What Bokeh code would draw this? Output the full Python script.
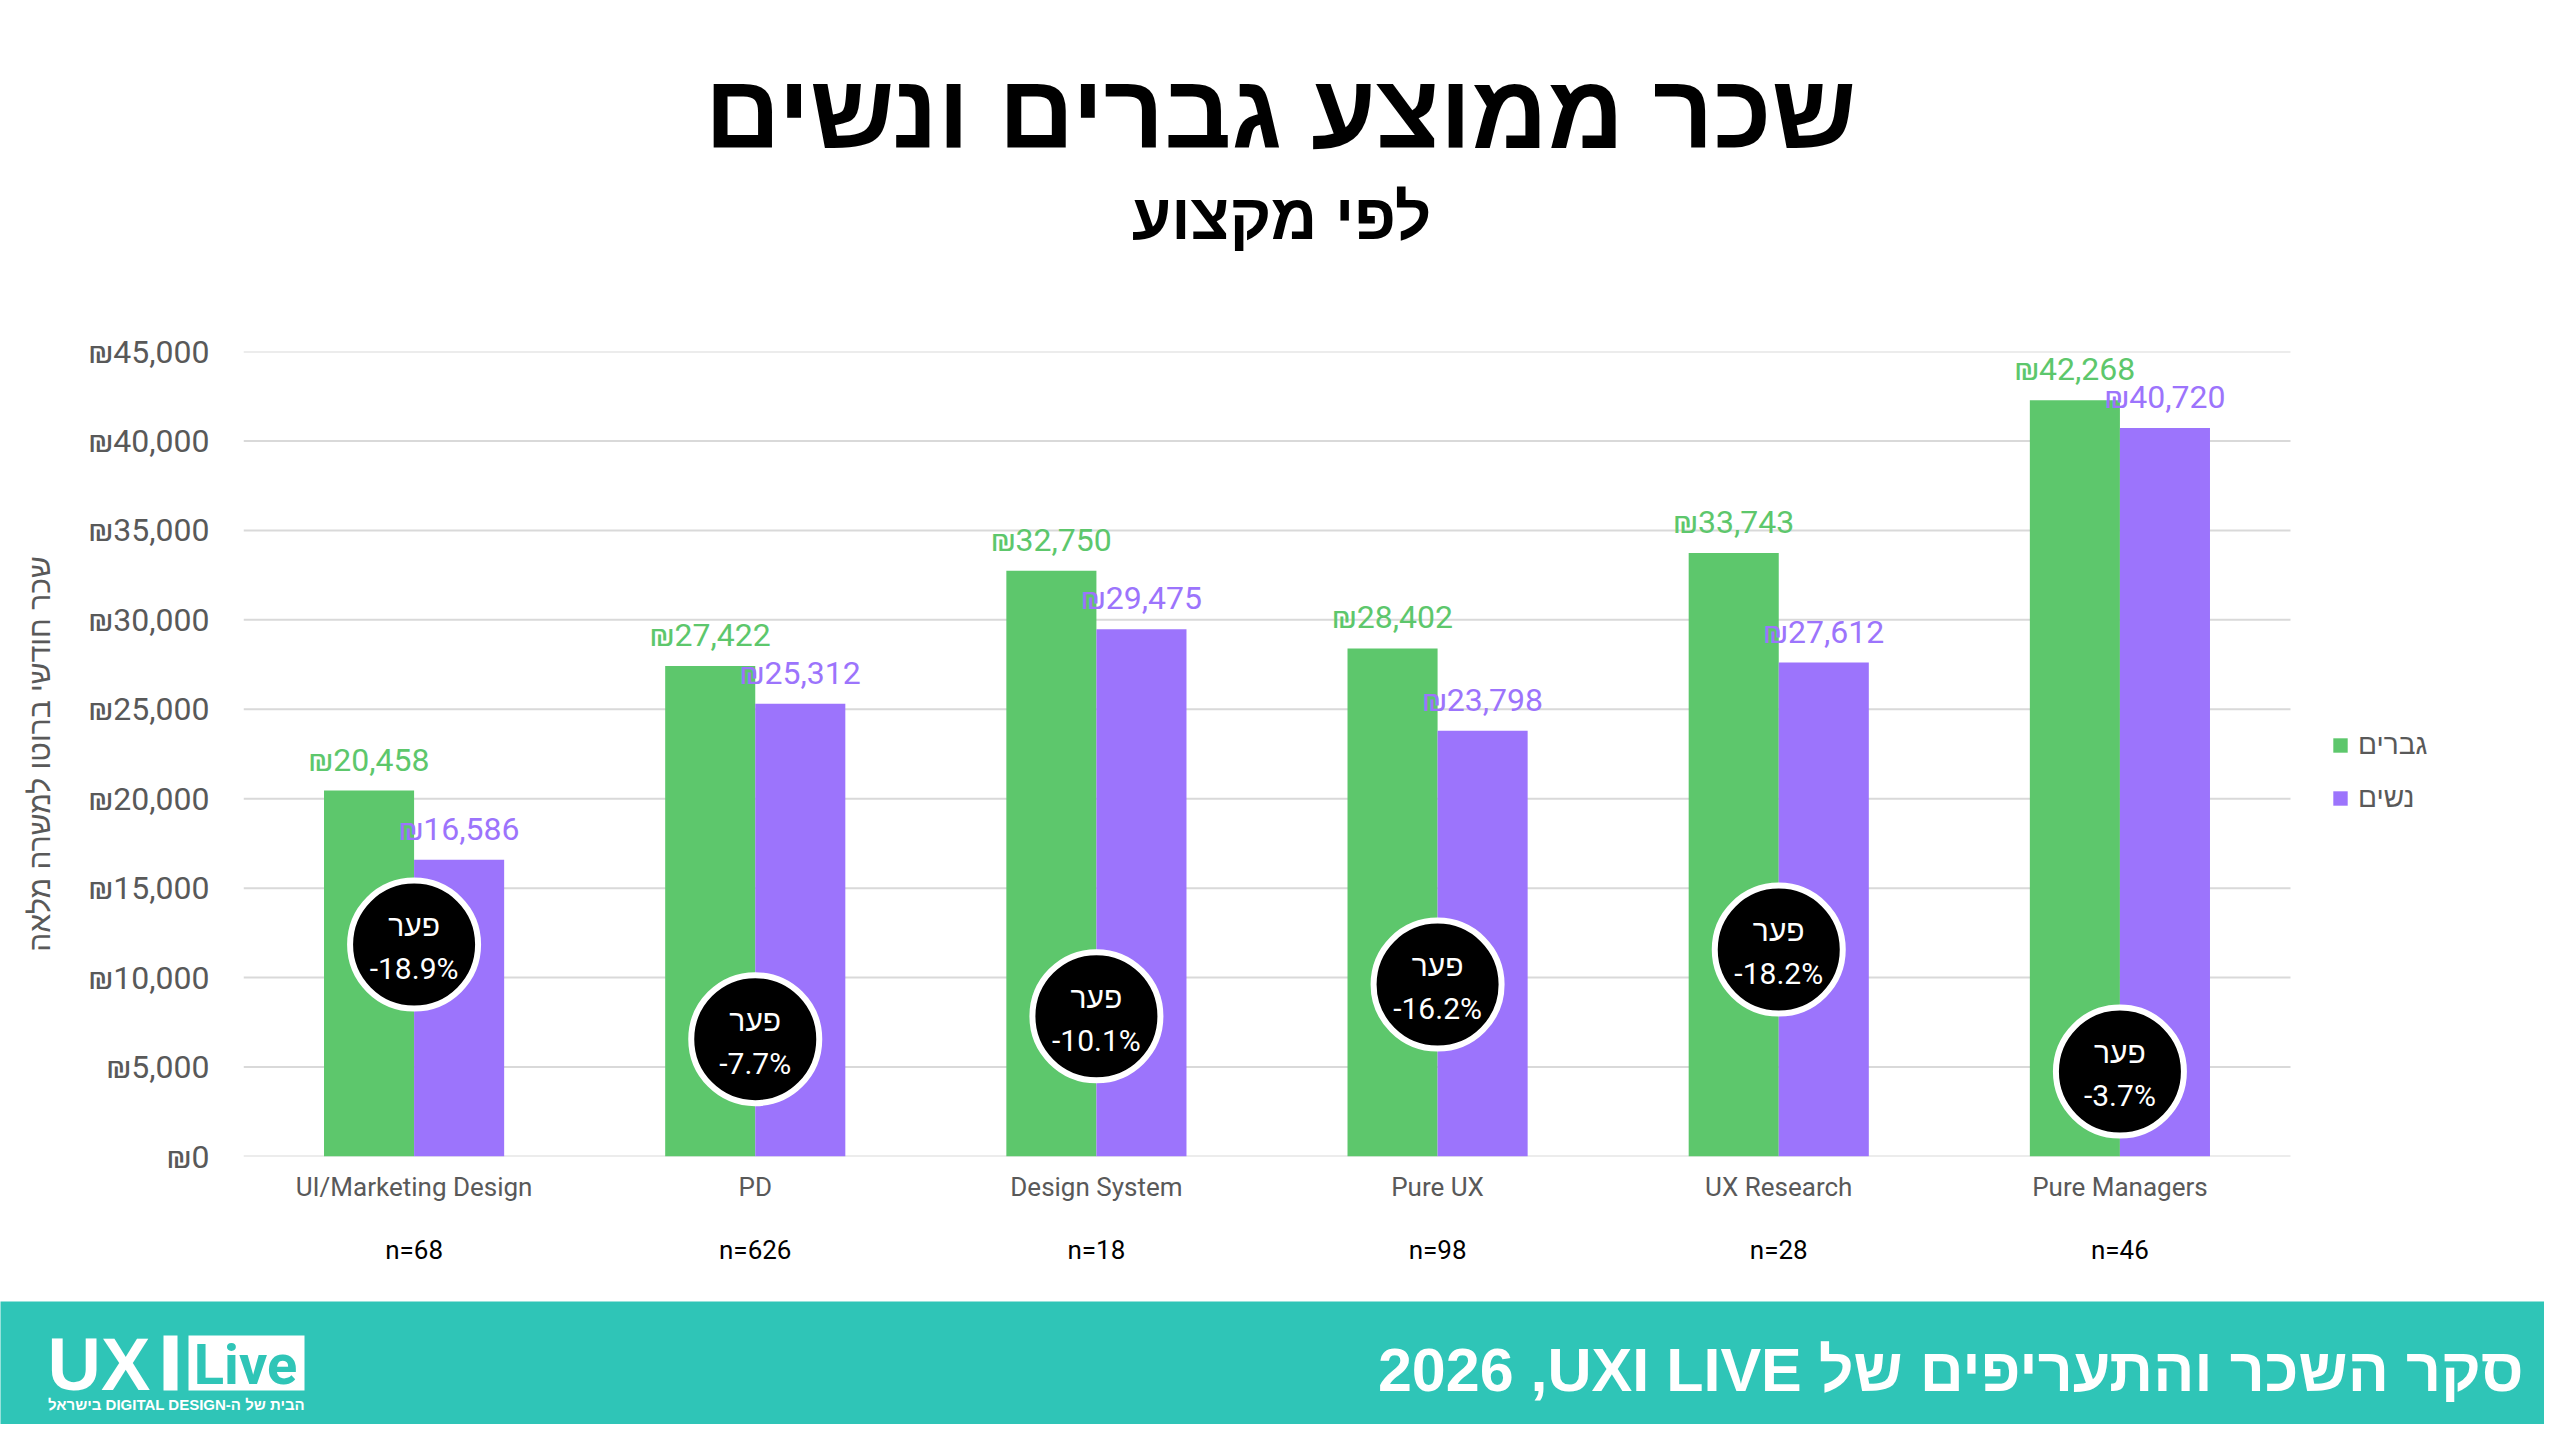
from bokeh.plotting import figure
from bokeh.models import (ColumnDataSource, Range1d, LabelSet, Legend, LegendItem,
                          LinearAxis, FixedTicker)
from bokeh.embed import file_html
from bokeh.resources import INLINE
from bokeh.core.properties import value

# ---------------- data ----------------
categories = ["UI/Marketing Design", "PD", "Design System", "Pure UX", "UX Research", "Pure Managers"]
men_salary = [20458, 27422, 32750, 28402, 33743, 42268]
women_salary = [16586, 25312, 29475, 23798, 27612, 40720]
gap_percent = [-18.9, -7.7, -10.1, -16.2, -18.2, -3.7]
sample_n = [68, 626, 18, 98, 28, 46]
gap_badge_level = [11850, 6560, 7840, 9610, 11570, 4750]
y_tick_values = [0, 5000, 10000, 15000, 20000, 25000, 30000, 35000, 40000, 45000]
series_names = ["גברים", "נשים"]
gap_word = "פער"
title_text = "שכר ממוצע גברים ונשים"
subtitle_text = "לפי מקצוע"
y_title = "שכר חודשי ברוטו למשרה מלאה"
footer_text = "\u202Bסקר השכר והתעריפים של UXI LIVE, \u200F2026\u202C"
tagline_text = "\u202Bהבית של ה-DIGITAL DESIGN בישראל\u202C"

# ---------------- style ----------------
GREEN = "#5DC76C"
PURPLE = "#9C74FC"
TEAL = "#2FC5B7"
GRAY_TXT = "#595959"
GRID = "#D9D9D9"
HEB_NAME = "Liberation Sans"
LAT_NAME = "Roboto"
HEB = value(HEB_NAME)
LAT = value(LAT_NAME)
W = 2544

# category slots on a numeric axis: slot i spans [i, i+1]
centers = [i + 0.5 for i in range(len(categories))]
off = 0.132
bw = 0.264
src = ColumnDataSource(dict(
    xc=centers,
    xm=[c - off for c in centers],
    xw=[c + off for c in centers],
    men=men_salary,
    women=women_salary,
    men_lbl=[f"₪{v:,}" for v in men_salary],
    women_lbl=[f"₪{v:,}" for v in women_salary],
    badge=gap_badge_level,
    gap_lbl=[f"{v}%" for v in gap_percent],
))

# ---------------- header (canvas y 0..300) ----------------
hdr = figure(width=W, height=300, x_range=Range1d(0, W), y_range=Range1d(300, 0),
             x_axis_type=None, y_axis_type=None, output_backend="svg",
             toolbar_location=None, min_border=0)
hdr.outline_line_color = None
hdr.text(x=[1280], y=[111], text=[title_text], text_font=HEB, text_font_style="bold",
         text_font_size="105px", text_align="center", text_baseline="middle",
         text_color="black")
hdr.text(x=[1281], y=[216], text=[subtitle_text], text_font=HEB, text_font_style="bold",
         text_font_size="64px", text_align="center", text_baseline="middle",
         text_color="black")

# ---------------- main chart (canvas y 300..1301) ----------------
FRAME_L, FRAME_R_CATS = 243, 2290          # plot area of the categories
x_end = len(categories) * (W - FRAME_L) / (FRAME_R_CATS - FRAME_L)
chart = figure(width=W, height=1001, x_range=Range1d(0, x_end), y_range=Range1d(0, 45000),
               output_backend="svg", toolbar_location=None,
               min_border_left=FRAME_L, min_border_right=0, min_border_top=51, min_border_bottom=145)
chart.outline_line_color = None
chart.xgrid.visible = False
chart.ygrid.visible = False

# horizontal gridlines across the category area only
chart.segment(x0=[0] * len(y_tick_values), x1=[len(categories)] * len(y_tick_values),
              y0=y_tick_values, y1=y_tick_values, line_color=GRID, line_width=2)

r_men = chart.vbar(x="xm", top="men", width=bw, source=src, fill_color=GREEN, line_color=None)
r_women = chart.vbar(x="xw", top="women", width=bw, source=src, fill_color=PURPLE, line_color=None)

chart.add_layout(LabelSet(x="xm", y="men", text="men_lbl", source=src, y_offset=20,
                          text_align="center", text_baseline="alphabetic",
                          text_font=LAT, text_font_size="32px", text_color=GREEN))
chart.add_layout(LabelSet(x="xw", y="women", text="women_lbl", source=src, y_offset=20,
                          text_align="center", text_baseline="alphabetic",
                          text_font=LAT, text_font_size="32px", text_color=PURPLE))

chart.scatter(x="xc", y="badge", source=src, marker="circle", size=128,
              fill_color="black", line_color="white", line_width=6)
chart.text(x="xc", y="badge", text=value(gap_word), source=src, y_offset=-19,
           text_align="center", text_baseline="middle", text_font=HEB,
           text_font_size="30px", text_color="white")
chart.text(x="xc", y="badge", text="gap_lbl", source=src, y_offset=24,
           text_align="center", text_baseline="middle", text_font=LAT,
           text_font_size="30px", text_color="white")

# y axis
chart.yaxis.ticker = FixedTicker(ticks=y_tick_values)
chart.yaxis.major_label_overrides = {t: f"₪{t:,}" for t in y_tick_values}
chart.yaxis.axis_line_color = None
chart.yaxis.major_tick_line_color = None
chart.yaxis.minor_tick_line_color = None
chart.yaxis.major_label_text_font = LAT_NAME
chart.yaxis.major_label_text_font_size = "32px"
chart.yaxis.major_label_text_color = GRAY_TXT
chart.yaxis.major_label_standoff = 28
chart.yaxis.axis_label = y_title
chart.yaxis.axis_label_text_font = HEB_NAME
chart.yaxis.axis_label_text_font_style = "normal"
chart.yaxis.axis_label_text_font_size = "30px"
chart.yaxis.axis_label_text_color = GRAY_TXT
chart.yaxis.axis_label_standoff = 30

# x axis with category names
chart.xaxis.ticker = FixedTicker(ticks=centers)
chart.xaxis.major_label_overrides = {c: name for c, name in zip(centers, categories)}
chart.xaxis.axis_line_color = None
chart.xaxis.major_tick_line_color = None
chart.xaxis.minor_tick_line_color = None
chart.xaxis.major_label_text_font = LAT_NAME
chart.xaxis.major_label_text_font_size = "26px"
chart.xaxis.major_label_text_color = GRAY_TXT
chart.xaxis.major_label_standoff = 9

# second x axis with sample sizes
n_axis = LinearAxis(ticker=FixedTicker(ticks=centers),
                    major_label_overrides={c: f"n={n}" for c, n in zip(centers, sample_n)})
n_axis.axis_line_color = None
n_axis.major_tick_line_color = None
n_axis.minor_tick_line_color = None
n_axis.major_label_text_font = LAT_NAME
n_axis.major_label_text_font_size = "26px"
n_axis.major_label_text_color = "black"
n_axis.major_label_standoff = 24
chart.add_layout(n_axis, "below")

legend = Legend(items=[LegendItem(label=series_names[0], renderers=[r_men]),
                       LegendItem(label=series_names[1], renderers=[r_women])],
                location=(2331 - FRAME_L, 1156 - 815), orientation="vertical",
                glyph_width=18, glyph_height=18, label_standoff=9,
                label_text_font=HEB_NAME, label_text_font_size="28px",
                label_text_color=GRAY_TXT, label_height=34, spacing=19,
                padding=10, margin=0, border_line_color=None,
                background_fill_alpha=0)
chart.add_layout(legend, "center")

# ---------------- footer (canvas y 1301..1424) ----------------
ftr = figure(width=W, height=123, x_range=Range1d(0, W), y_range=Range1d(1424, 1301),
             x_axis_type=None, y_axis_type=None, output_backend="svg",
             toolbar_location=None, min_border=0,
             background_fill_color=TEAL, border_fill_color=TEAL)
ftr.outline_line_color = None
ftr.text(x=[2523], y=[1369], text=[footer_text], text_font=HEB, text_font_style="bold",
         text_font_size="61px", text_align="right", text_baseline="middle",
         text_color="white")
ftr.text(x=[47], y=[1364], text=["UX"], text_font=HEB, text_font_style="bold",
         text_font_size="74px", text_align="left", text_baseline="middle",
         text_color="white")
ftr.quad(left=[163], right=[177], top=[1335], bottom=[1390], fill_color="white", line_color=None)
ftr.quad(left=[188], right=[304], top=[1335], bottom=[1390], fill_color="white", line_color=None)
ftr.text(x=[245], y=[1364], text=["Live"], text_font=LAT, text_font_style="bold",
         text_font_size="56px", text_align="center", text_baseline="middle",
         text_color=TEAL)
ftr.text(x=[176], y=[1404], text=[tagline_text], text_font=HEB, text_font_style="bold",
         text_font_size="15px", text_align="center", text_baseline="middle",
         text_color="white")

# three independent roots, stacked on the page
open("out.html", "w").write(file_html([hdr, chart, ftr], INLINE))
